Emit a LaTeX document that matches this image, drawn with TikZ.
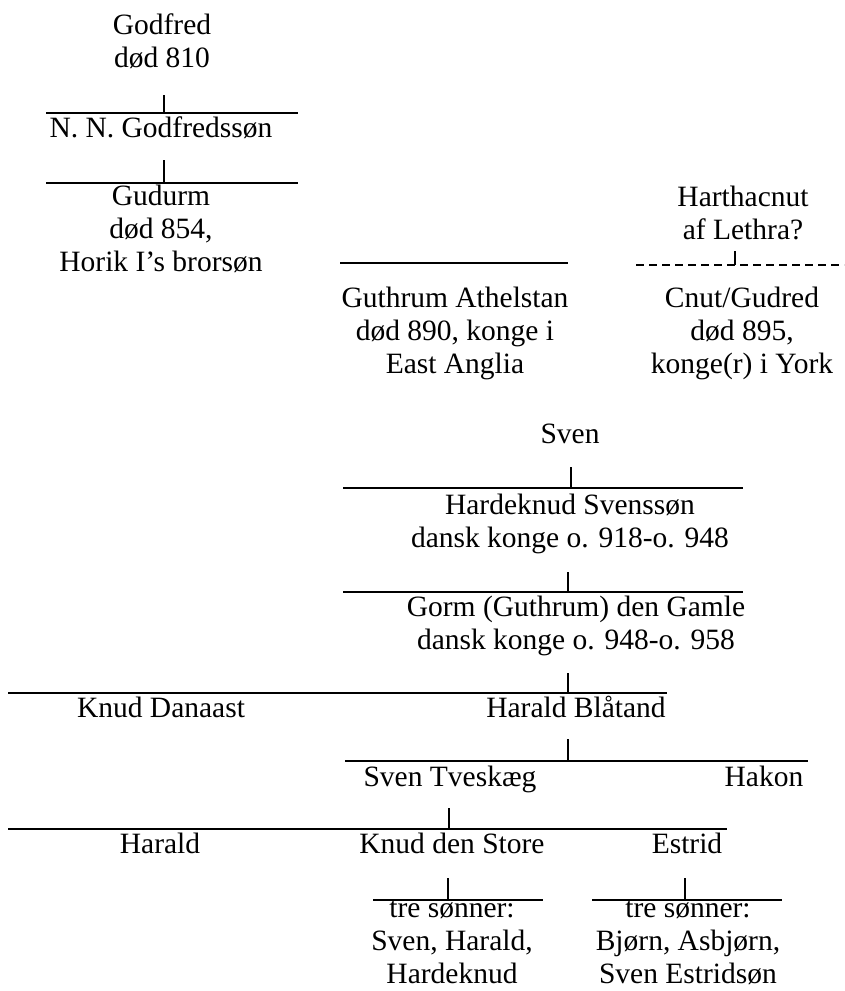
\documentclass[tikz,border=0pt]{standalone}
\usepackage{fontspec}
\setmainfont{Liberation Serif}
\begin{document}
\begin{tikzpicture}[x=1pt,y=-1pt,
  lbl/.style={font=\fontsize{29.5}{32.8}\selectfont, align=center, anchor=base, inner sep=0pt},
  rule/.style={line width=1.2pt},
  dashrule/.style={line width=1.2pt, dash pattern=on 8pt off 5pt}]
\useasboundingbox (0,0) rectangle (844,991);

% nodes (anchor = baseline of the last line)
\node[lbl] (godfred) at (162,67) {Godfred\\død 810};
\node[lbl] (nn) at (161,137) {N. N. Godfredssøn};
\node[lbl] (gudurm) at (161,271) {Gudurm\\død 854,\\Horik I’s brorsøn};
\node[lbl] (harth) at (743,239) {Harthacnut\\af Lethra?};
\node[lbl] (guthrum) at (455,373) {Guthrum Athelstan\\død 890, konge i\\East Anglia};
\node[lbl] (cnut) at (742,373) {Cnut/Gudred\\død 895,\\konge(r) i York};
\node[lbl] (sven) at (570,443) {Sven};
\node[lbl] (hardeknud) at (570,547) {Hardeknud Svenssøn\\dansk konge o. 918-o. 948};
\node[lbl] (gorm) at (576,649) {Gorm (Guthrum) den Gamle\\dansk konge o. 948-o. 958};
\node[lbl] (knudd) at (161,717) {Knud Danaast};
\node[lbl] (blaatand) at (576,717) {Harald Blåtand};
\node[lbl] (svent) at (450,786) {Sven Tveskæg};
\node[lbl] (hakon) at (764,786) {Hakon};
\node[lbl] (harald) at (160,853) {Harald};
\node[lbl] (knuds) at (452,853) {Knud den Store};
\node[lbl] (estrid) at (687,853) {Estrid};
\node[lbl] (sons1) at (452,983) {tre sønner:\\Sven, Harald,\\Hardeknud};
\node[lbl] (sons2) at (688,983) {tre sønner:\\Bjørn, Asbjørn,\\Sven Estridsøn};

% coordinates of rules and ticks
\coordinate (l1w) at (46,113);  \coordinate (l1e) at (298,113);
\coordinate (t1a) at (164,95);  \coordinate (t1b) at (164,113);
\coordinate (l2w) at (46,183);  \coordinate (l2e) at (298,183);
\coordinate (t2a) at (164,160); \coordinate (t2b) at (164,183);
\coordinate (l3w) at (340,263); \coordinate (l3e) at (568,263);
\coordinate (l4w) at (636,265); \coordinate (l4e) at (844,265);
\coordinate (t4a) at (735,251); \coordinate (t4b) at (735,265);
\coordinate (l5w) at (343,488); \coordinate (l5e) at (743,488);
\coordinate (t5a) at (571,467); \coordinate (t5b) at (571,488);
\coordinate (l6w) at (343,592); \coordinate (l6e) at (743,592);
\coordinate (t6a) at (568,572); \coordinate (t6b) at (568,592);
\coordinate (l7w) at (8,693);   \coordinate (l7e) at (667,693);
\coordinate (t7a) at (568,673); \coordinate (t7b) at (568,693);
\coordinate (l8w) at (345,761); \coordinate (l8e) at (808,761);
\coordinate (t8a) at (568,739); \coordinate (t8b) at (568,761);
\coordinate (l9w) at (8,829);   \coordinate (l9e) at (727,829);
\coordinate (t9a) at (449,808); \coordinate (t9b) at (449,829);
\coordinate (l10w) at (373,900); \coordinate (l10e) at (543,900);
\coordinate (t10a) at (448,878); \coordinate (t10b) at (448,900);
\coordinate (l11w) at (592,900); \coordinate (l11e) at (782,900);
\coordinate (t11a) at (685,878); \coordinate (t11b) at (685,900);

\draw[rule] (l1w) -- (l1e);  \draw[rule] (t1a) -- (t1b);
\draw[rule] (l2w) -- (l2e);  \draw[rule] (t2a) -- (t2b);
\draw[rule] (l3w) -- (l3e);
\draw[dashrule] (l4w) -- (l4e); \draw[rule] (t4a) -- (t4b);
\draw[rule] (l5w) -- (l5e);  \draw[rule] (t5a) -- (t5b);
\draw[rule] (l6w) -- (l6e);  \draw[rule] (t6a) -- (t6b);
\draw[rule] (l7w) -- (l7e);  \draw[rule] (t7a) -- (t7b);
\draw[rule] (l8w) -- (l8e);  \draw[rule] (t8a) -- (t8b);
\draw[rule] (l9w) -- (l9e);  \draw[rule] (t9a) -- (t9b);
\draw[rule] (l10w) -- (l10e); \draw[rule] (t10a) -- (t10b);
\draw[rule] (l11w) -- (l11e); \draw[rule] (t11a) -- (t11b);
\end{tikzpicture}
\end{document}
